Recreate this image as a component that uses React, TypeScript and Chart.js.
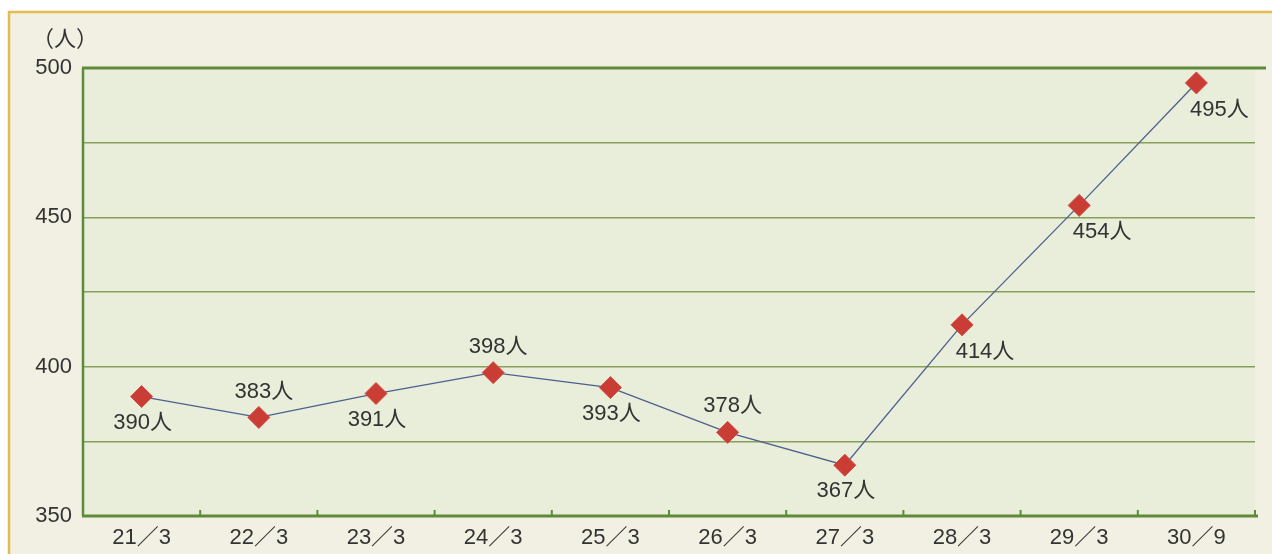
import React, { useEffect, useRef } from "react";
import { Chart, registerables } from "chart.js";

Chart.register(...registerables);

const categories = ["21／3", "22／3", "23／3", "24／3", "25／3", "26／3", "27／3", "28／3", "29／3", "30／9"];
const values = [390, 383, 391, 398, 393, 378, 367, 414, 454, 495];
const valueLabels = ["390人", "383人", "391人", "398人", "393人", "378人", "367人", "414人", "454人", "495人"];
const yTickLabels = [350, 400, 450, 500];
const unitLabel = "（人）";

const FONT = "'Liberation Sans', Arial, 'Noto Sans CJK JP', sans-serif";
const TEXT = "#333333";

// label placement styles (per point)
const placement = ["below", "above", "below", "above", "below", "above", "below", "belowRight", "belowRight", "belowRight"];
const placeOffsets: Record<string, [number, number]> = {
  below: [1, 26],
  above: [5, -26],
  belowRight: [23, 27],
};

const framePlugin = {
  id: "framePlugin",
  beforeDraw(chart: any) {
    const { ctx, width, height, chartArea } = chart;
    ctx.save();
    ctx.fillStyle = "#ffffff";
    ctx.fillRect(0, 0, width, height);
    ctx.fillStyle = "#f2f0e3";
    ctx.fillRect(9, 12, width - 9, height - 12);
    ctx.strokeStyle = "#e2bc4c";
    ctx.lineWidth = 2.5;
    ctx.beginPath();
    ctx.moveTo(9, height);
    ctx.lineTo(9, 12);
    ctx.lineTo(width, 12);
    ctx.stroke();
    ctx.fillStyle = "#e9eedb";
    ctx.fillRect(chartArea.left, chartArea.top, chartArea.right - chartArea.left, chartArea.bottom - chartArea.top);
    ctx.restore();
  },
  beforeDatasetsDraw(chart: any) {
    const { ctx, chartArea } = chart;
    const x = chart.scales.x;
    ctx.save();
    ctx.strokeStyle = "#5f8a3b";
    ctx.lineWidth = 3;
    ctx.lineCap = "butt";
    ctx.beginPath();
    ctx.moveTo(chartArea.left - 1, chartArea.top);
    ctx.lineTo(chartArea.right + 11, chartArea.top);
    ctx.stroke();
    ctx.lineWidth = 2.5;
    ctx.beginPath();
    ctx.moveTo(chartArea.left, chartArea.top);
    ctx.lineTo(chartArea.left, chartArea.bottom);
    ctx.stroke();
    ctx.lineWidth = 3;
    ctx.beginPath();
    ctx.moveTo(chartArea.left - 1, chartArea.bottom);
    ctx.lineTo(chartArea.right + 3, chartArea.bottom);
    ctx.stroke();
    ctx.lineWidth = 2;
    const n = categories.length;
    for (let i = 0; i < n; i++) {
      const px = i < n - 1 ? (x.getPixelForValue(i) + x.getPixelForValue(i + 1)) / 2 : chartArea.right;
      ctx.beginPath();
      ctx.moveTo(px, chartArea.bottom);
      ctx.lineTo(px, chartArea.bottom - 6);
      ctx.stroke();
    }
    ctx.restore();
  },
  afterDatasetsDraw(chart: any) {
    const { ctx } = chart;
    const meta = chart.getDatasetMeta(0);
    ctx.save();
    ctx.font = `22px ${FONT}`;
    ctx.fillStyle = TEXT;
    ctx.textAlign = "center";
    ctx.textBaseline = "middle";
    meta.data.forEach((pt: any, i: number) => {
      const [dx, dy] = placeOffsets[placement[i]];
      ctx.fillText(valueLabels[i], pt.x + dx, pt.y + dy);
    });
    ctx.fillText(unitLabel, 65, 40);
    ctx.restore();
  },
};

export default function App() {
  const ref = useRef<HTMLCanvasElement | null>(null);
  useEffect(() => {
    if (!ref.current) return;
    const chart = new Chart(ref.current, {
      type: "line",
      data: {
        labels: categories,
        datasets: [
          {
            data: values,
            borderColor: "#4d5f8c",
            borderWidth: 1.3,
            tension: 0,
            pointStyle: "rectRot",
            pointRadius: 11,
            pointBackgroundColor: "#c93d35",
            pointBorderColor: "#d24b43",
            pointBorderWidth: 1,
          },
        ],
      },
      options: {
        animation: false,
        responsive: false,
        devicePixelRatio: 1,
        layout: { padding: { left: 0, right: 17, top: 68, bottom: 0 } },
        plugins: { legend: { display: false }, tooltip: { enabled: false }, title: { display: false } },
        scales: {
          x: {
            type: "category",
            offset: true,
            grid: { display: false },
            border: { display: false },
            ticks: { color: TEXT, font: { size: 22, family: FONT }, padding: 1, maxRotation: 0 },
            afterFit: (s: any) => {
              s.height = 38;
            },
          },
          y: {
            min: 350,
            max: 500,
            grid: {
              drawTicks: false,
              color: (c: any) => (c.tick && (c.tick.value === 350 || c.tick.value === 500) ? "rgba(0,0,0,0)" : "#86a05a"),
              lineWidth: 1.5,
            },
            border: { display: false },
            ticks: {
              stepSize: 25,
              padding: 11,
              color: TEXT,
              font: { size: 22, family: FONT },
              callback: (v: any) => (yTickLabels.includes(Number(v)) ? String(v) : ""),
            },
            afterFit: (s: any) => {
              s.width = 83;
            },
          },
        },
      },
      plugins: [framePlugin],
    });
    return () => chart.destroy();
  }, []);
  return (
    <div style={{ position: "absolute", left: 0, top: 0, width: 1272, height: 554 }}>
      <canvas ref={ref} width={1272} height={554} style={{ display: "block" }} />
    </div>
  );
}
